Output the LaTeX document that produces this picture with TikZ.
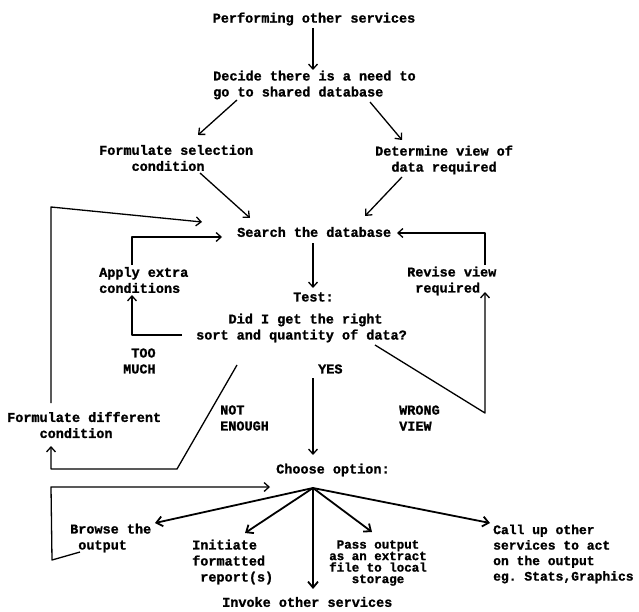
\documentclass[tikz,border=0pt]{standalone}
\usepackage{fontspec}
\setmonofont{Liberation Mono}[BoldFeatures={FakeBold=1.2}]
\usetikzlibrary{arrows.meta,calc}
\begin{document}
\begin{tikzpicture}[x=1pt,y=-1pt,
  txt/.style={font=\ttfamily\bfseries\fontsize{13.5}{16}\selectfont, inner sep=0pt, align=left, anchor=west},
  ln/.style={line width=1.3pt, line join=round},
  arr/.style={ln, -{Straight Barb[length=5pt,width=9pt]}},
  hubarr/.style={line width=1.8pt, line join=round, -{Straight Barb[length=6pt,width=10pt]}}]
\fill[white] (0,0) rectangle (639,612);
\useasboundingbox (0,0) rectangle (639,612);

% nodes
\node[txt, anchor=center] (perf) at (314,19) {Performing other services};
\node[txt] (decide) at (213,85) {Decide there is a need to\\go to shared database};
\node[txt] (fsel) at (99,158) {Formulate selection\\\phantom{Form}condition};
\node[txt] (dview) at (375,160) {Determine view of\\\phantom{De}data required};
\node[txt] (search) at (237,232) {Search the database};
\node[txt] (apply) at (99,280) {Apply extra\\conditions};
\node[txt] (revise) at (407,281) {Revise view\\\phantom{R}required};
\node[txt] (test) at (293,297) {Test:};
\node[txt] (did) at (196,328) {\phantom{sort}Did I get the right\\sort and quantity of data?};
\node[txt] (too) at (123,361) {\phantom{M}TOO\\MUCH};
\node[txt] (yes) at (318,369) {YES};
\node[txt] (fdiff) at (7,425) {Formulate different\\\phantom{Form}condition};
\node[txt] (notenough) at (220,418) {NOT\\ENOUGH};
\node[txt] (wrong) at (399,418) {WRONG\\VIEW};
\node[txt] (choose) at (276,470) {Choose option:};
\node[txt] (browse) at (70,538) {Browse the\\\phantom{B}output};
\node[txt] (initiate) at (192,562) {Initiate\\formatted\\\phantom{f}report(s)};
\node[txt, anchor=center, align=center, font=\ttfamily\bfseries\fontsize{12.5}{11.5}\selectfont] (pass) at (378,563) {Pass output\\as an extract\\file to local\\storage};
\node[txt, font=\ttfamily\bfseries\fontsize{13}{15.5}\selectfont] (callup) at (493,554) {Call up other\\services to act\\on the output\\eg. Stats,Graphics};
\node[txt] (invoke) at (222,602) {Invoke other services};

\coordinate (hub) at ($(choose.west)+(37,18)$);
\coordinate (outercorner) at (51,207);
\coordinate (wrongcorner) at (485,413);
\coordinate (notcorner) at (177,469);
\coordinate (browsecornerA) at (52,560);
\coordinate (browsecornerB) at (51,487);

% connectors
\draw[arr] ($(perf.center)+(-1,9)$) -- ($(decide.west)+(100,-15)$);
\draw[arr] ($(decide.west)+(24,15)$) -- ($(fsel.west)+(99,-23)$);
\draw[arr] ($(decide.west)+(157,17)$) -- ($(dview.west)+(27,-20)$);
\draw[arr] ($(fsel.west)+(101,15)$) -- ($(search.west)+(13,-14)$);
\draw[arr] ($(dview.west)+(27,17)$) -- ($(search.west)+(128,-16)$);
\draw[arr] ($(fdiff.west)+(44,-22)$) -- (outercorner) -- ($(search.west)+(-35,-10)$);
\draw[arr] ($(apply.west)+(33,-15)$) |- ($(search.west)+(-15,5)$);
\draw[arr] ($(revise.west)+(78,-16)$) |- ($(search.west)+(160,1)$);
\draw[arr] ($(search.west)+(76,11)$) -- ($(test.west)+(20,-9)$);
\draw[arr] ($(did.west)+(-14,7)$) -| ($(apply.west)+(33,15)$);
\draw[arr] ($(did.west)+(179,17)$) -- (wrongcorner) -- ($(revise.west)+(78,11)$);
\draw[arr] ($(did.west)+(41,37)$) -- (notcorner) -- (51,469) -- ($(fdiff.west)+(44,21)$);
\draw[arr] ($(yes.west)+(-5,9)$) -- ($(choose.west)+(37,-15)$);
\draw[arr] ($(browse.west)+(10,14)$) -- (browsecornerA) -- (browsecornerB) -- ($(hub)+(-43,-1)$);
\draw[hubarr] (hub) -- ($(browse.west)+(85,-15)$);
\draw[hubarr] (hub) -- ($(initiate.west)+(53,-29)$);
\draw[hubarr] (hub) -- ($(invoke.west)+(91,-13)$);
\draw[hubarr] (hub) -- ($(pass.center)+(-6,-31)$);
\draw[hubarr] (hub) -- ($(callup.west)+(-3,-31)$);
\end{tikzpicture}
\end{document}
